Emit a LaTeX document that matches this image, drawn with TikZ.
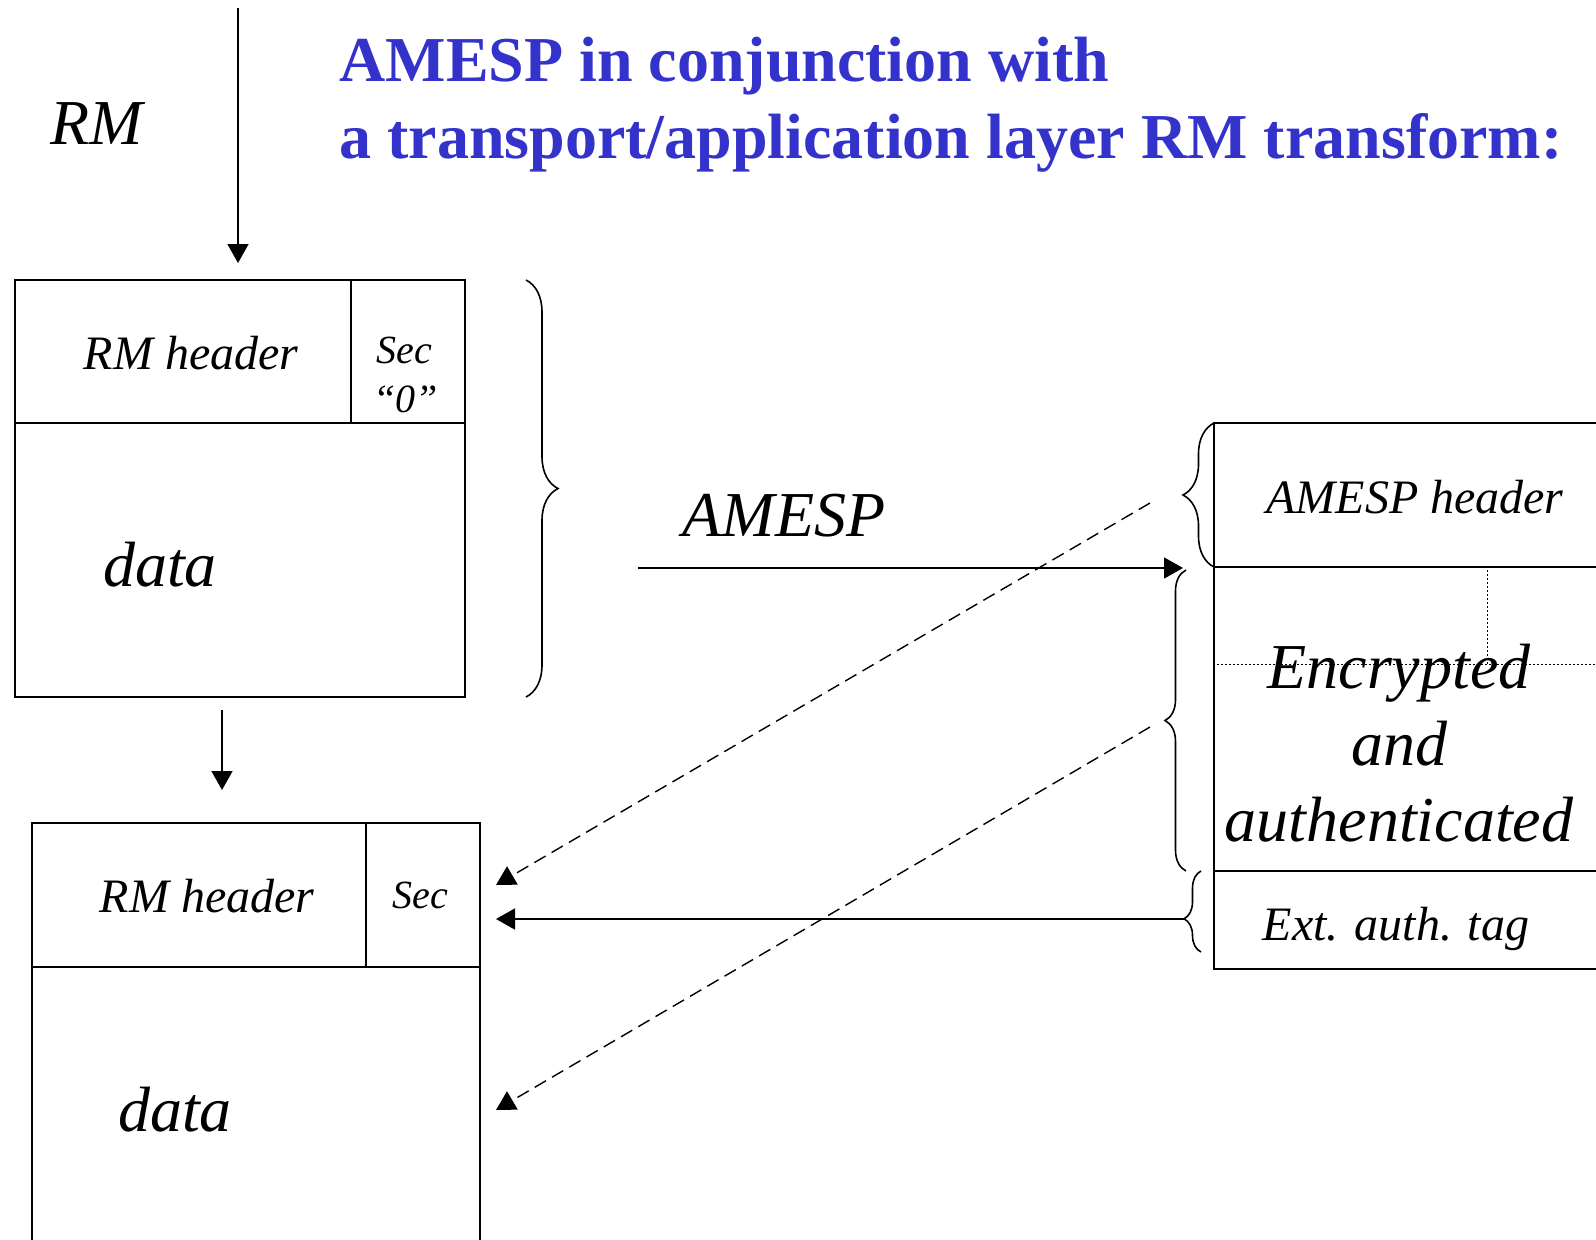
\documentclass[tikz,border=0pt]{standalone}
\usepackage{fontspec}
\setmainfont{Liberation Serif}
\usetikzlibrary{arrows.meta,decorations.pathreplacing}
\definecolor{titleblue}{RGB}{51,51,204}
\begin{document}
\begin{tikzpicture}[x=0.5pt,y=-0.5pt,
  cell/.style={draw,line width=1.05pt,inner sep=0pt,outer sep=0pt,anchor=north west},
  lbl/.style={inner sep=0pt,font=\fontsize{24}{28}\selectfont\itshape},
  big/.style={inner sep=0pt,font=\fontsize{32}{38}\selectfont\itshape},
  small/.style={inner sep=0pt,font=\fontsize{20}{24}\selectfont\itshape},
  ttl/.style={inner sep=0pt,anchor=base west,text=titleblue,font=\fontsize{32}{38}\selectfont\bfseries},
  arr/.style={line width=0.85pt,-{Triangle[length=9.5pt,width=10.5pt]}},
  dasharr/.style={line width=0.7pt,dash pattern=on 6.5pt off 3.5pt,-{Triangle[length=9.5pt,width=10.5pt]}},
  brc/.style={line width=0.8pt,decorate,decoration={brace,amplitude=#1}},
  brcasp/.style 2 args={line width=0.8pt,decorate,decoration={brace,amplitude=#1,aspect=#2}},
  dotline/.style={line width=0.5pt,dash pattern=on 1pt off 1pt}
]
\useasboundingbox (0,0) rectangle (1596,1239);
\clip (0,0) rectangle (1596,1239);

% title
\node[ttl] (t1) at (339,81) {AMESP in conjunction with};
\node[ttl] (t2) at (339,158) {a transport/application layer RM transform:};

% RM label and arrow
\node[big] (rm) at (97,124) {RM};
\coordinate (rmstart) at (238,8);
\coordinate (rmend) at (238,263);
\draw[arr] (rmstart) -- (rmend);

% top packet
\node[cell,minimum width=168pt,minimum height=71.5pt] (h1) at (15,280) {};
\node[cell,minimum width=57pt,minimum height=71.5pt] (s1) at (351,280) {};
\node[cell,minimum width=225pt,minimum height=137pt] (d1) at (15,423) {};
\node[lbl] (h1t) at (191,353) {RM header};
\node[small] (s1t) at (404,350) {Sec};
\node[small] (s1z) at (406,399) {“0”};
\node[big] (d1t) at (160,565) {data};

% brace right of top packet
\draw[brc=16pt] (526,280) -- (526,697);

% down arrow
\coordinate (dstart) at (222,710);
\coordinate (dend) at (222,790);
\draw[arr] (dstart) -- (dend);

% bottom packet
\node[cell,minimum width=167pt,minimum height=72pt] (h2) at (32,823) {};
\node[cell,minimum width=57pt,minimum height=72pt] (s2) at (366,823) {};
\node[cell,minimum width=224pt,minimum height=150pt] (d2) at (32,967) {};
\node[lbl] (h2t) at (207,896) {RM header};
\node[small] (s2t) at (420,895) {Sec};
\node[big] (d2t) at (175,1110) {data};

% AMESP arrow
\node[big] (amesp) at (784,516) {AMESP};
\coordinate (astart) at (638,568);
\coordinate (aend) at (1183,568);
\draw[arr] (astart) -- (aend);

% right packet
\node[cell,minimum width=200pt,minimum height=72pt] (ah) at (1214,423) {};
\node[cell,minimum width=200pt,minimum height=152pt] (ea) at (1214,567) {};
\node[cell,minimum width=200pt,minimum height=49pt] (tg) at (1214,871) {};
\node[lbl] (aht) at (1415,497) {AMESP header};
\node[big,anchor=base] (e1) at (1399,688) {Encrypted};
\node[big,anchor=base] (e2) at (1399,765) {and};
\node[big,anchor=base] (e3) at (1399,841) {authenticated};
\node[lbl] (tgt) at (1396,929) {Ext. auth. tag};
\draw[dotline] (1217,664) -- (1600,664);
\draw[dotline] (1487,570) -- (1487,664);

% braces left of right packet
\draw[brc=15.5pt] (1214,567) -- (1214,423);
\draw[brc=10.5pt] (1186,871) -- (1186,570);
\draw[brcasp={8.5pt}{0.41}] (1201,952) -- (1201,871);

% arrows back to bottom packet
\coordinate (x1s) at (1150,503);
\coordinate (x1e) at (496,885);
\draw[dasharr] (x1s) -- (x1e);
\coordinate (x2s) at (1150,727);
\coordinate (x2e) at (496,1110);
\draw[dasharr] (x2s) -- (x2e);
\coordinate (bs) at (1184,919);
\coordinate (be) at (496,919);
\draw[arr] (bs) -- (be);
\end{tikzpicture}
\end{document}
